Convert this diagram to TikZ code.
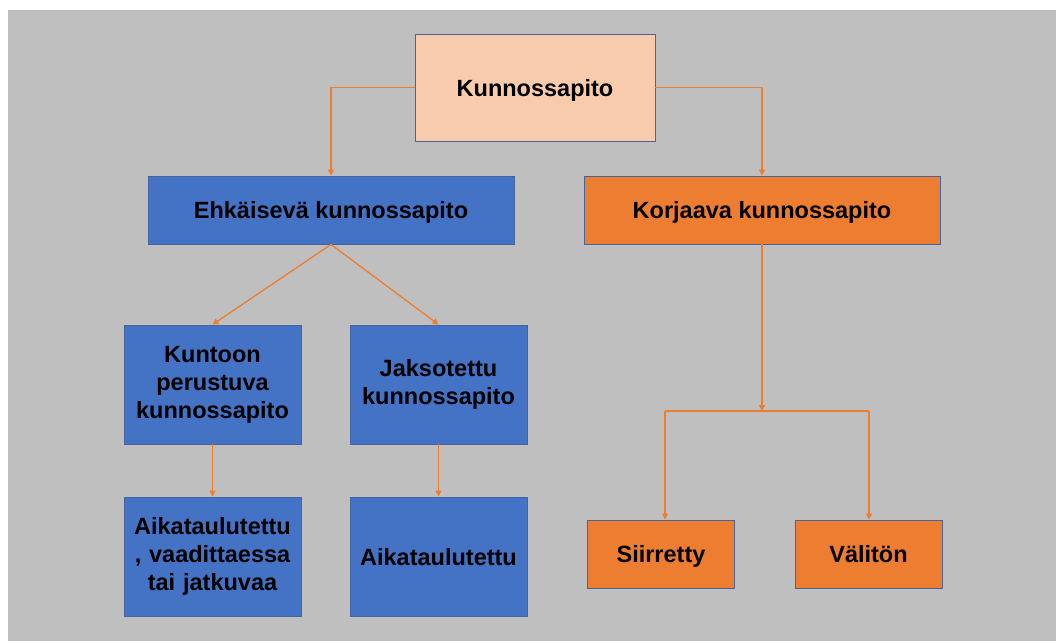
\documentclass[tikz,border=0pt]{standalone}
\usepackage{fontspec}
\setmainfont{Liberation Sans}
\usetikzlibrary{arrows.meta,positioning}
\definecolor{bggray}{RGB}{191,191,191}
\definecolor{boxblue}{RGB}{68,114,196}
\definecolor{boxorange}{RGB}{237,125,49}
\definecolor{boxpeach}{RGB}{248,203,173}
\definecolor{edgeblue}{RGB}{70,100,160}

\begin{document}
\begin{tikzpicture}[x=1pt,y=-1pt,
  tallbox/.style={draw=edgeblue,line width=0.9pt,inner sep=0pt,align=center,text=black,
    font=\fontsize{23.5}{28}\selectfont\bfseries},
  box/.style={tallbox,text depth=0pt},
  link/.style={draw=boxorange,line width=1.3pt,-{Triangle[length=6pt,width=6pt]}}]
\useasboundingbox (0,0) rectangle (1056,641);
\fill[bggray] (8,10) rectangle (1056,641);
% top level
\node[box,fill=boxpeach,minimum width=240pt,minimum height=107pt] (main) at (535,87.5) {Kunnossapito};
\node[box,fill=boxblue,minimum width=366pt,minimum height=68pt] (ehk) at (331,210) {Ehkäisevä kunnossapito};
\node[box,fill=boxorange,minimum width=356pt,minimum height=68pt] (kor) at (762,210) {Korjaava kunnossapito};
% preventive branch
\node[tallbox,fill=boxblue,minimum width=177pt,minimum height=119pt,text width=177pt] (kunto) at (212.5,384.5) {Kuntoon\\perustuva\\kunnossapito};
\node[tallbox,fill=boxblue,minimum width=177pt,minimum height=119pt,text width=177pt] (jakso) at (438.5,384.5) {Jaksotettu\\kunnossapito};
\node[tallbox,fill=boxblue,minimum width=177pt,minimum height=119pt,text width=177pt] (aika1) at (212.5,556.5) {Aikataulutettu\\, vaadittaessa\\tai jatkuvaa};
\node[box,fill=boxblue,minimum width=177pt,minimum height=119pt] (aika2) at (438.5,556.5) {Aikataulutettu};
% corrective branch
\node[box,fill=boxorange,minimum width=147pt,minimum height=68pt] (siir) at (661,554) {Siirretty};
\node[box,fill=boxorange,minimum width=147pt,minimum height=68pt] (valit) at (868.5,554) {Välitön};
\coordinate (split) at (762,411);
\coordinate (splitl) at (665,411);
\coordinate (splitr) at (869,411);

\draw[link] (main.west) -| (ehk.north);
\draw[link] (main.east) -| (kor.north);
\draw[link] (ehk.south) -- (kunto.north);
\draw[link] (ehk.south) -- (jakso.north);
\draw[link] (kunto) -- (aika1);
\draw[link] (jakso) -- (aika2);
\draw[link] (kor) -- (split);
\draw[link] (splitl) -- (splitl |- siir.north);
\draw[link] (splitr) -- (splitr |- valit.north);
\draw[draw=boxorange,line width=1.3pt] (splitl) -- (splitr);
\end{tikzpicture}
\end{document}
